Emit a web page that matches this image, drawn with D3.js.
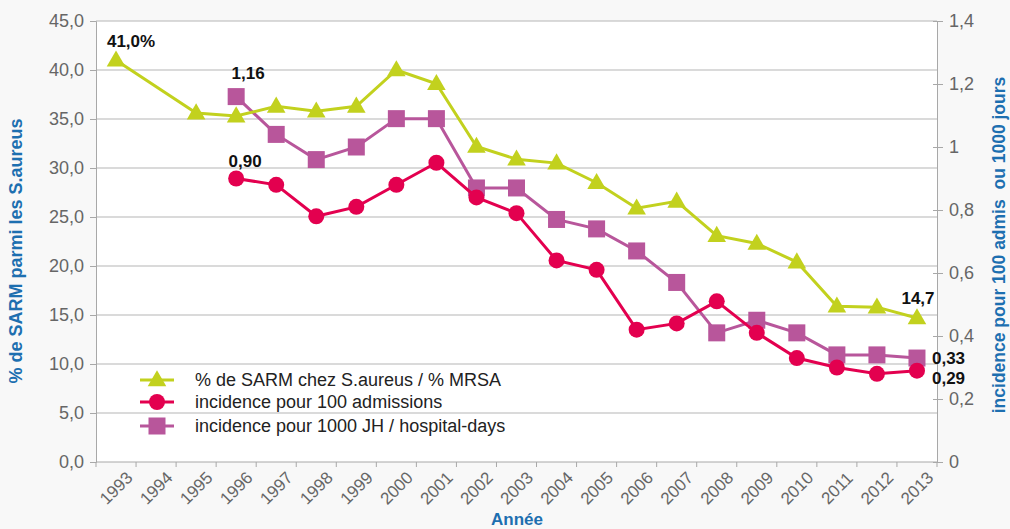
<!DOCTYPE html>
<html>
<head>
<meta charset="utf-8">
<title>SARM</title>
<script src="https://d3js.org/d3.v7.min.js"></script>
<style>
  body { margin: 0; background: #f8f8f8; }
  #plot { width: 1010px; height: 529px; }
  text { font-family: "Liberation Sans", Arial, sans-serif; }
</style>
</head>
<body>
<div id="plot"></div>
<script>
var years = ['1993','1994','1995','1996','1997','1998','1999','2000','2001','2002','2003',
             '2004','2005','2006','2007','2008','2009','2010','2011','2012','2013']
// % de SARM (axe gauche)
var pctSARM = [41.0, null, 35.6, 35.3, 36.3, 35.8, 36.3, 40.0, 38.6, 32.2, 30.9,
               30.5, 28.5, 25.9, 26.6, 23.1, 22.3, 20.4, 15.9, 15.8, 14.7]
// incidence pour 100 admissions (axe droit)
var incAdm = [null, null, null, 0.90, 0.88, 0.78, 0.81, 0.88, 0.95, 0.84, 0.79,
              0.64, 0.61, 0.42, 0.44, 0.51, 0.41, 0.33, 0.30, 0.28, 0.29]
// incidence pour 1000 JH (axe droit)
var incJH = [null, null, null, 1.16, 1.04, 0.96, 1.00, 1.09, 1.09, 0.87, 0.87,
             0.77, 0.74, 0.67, 0.57, 0.41, 0.45, 0.41, 0.34, 0.34, 0.33]
var leftTicks = [0, 5, 10, 15, 20, 25, 30, 35, 40, 45]
var rightTicks = [0, 0.2, 0.4, 0.6, 0.8, 1, 1.2, 1.4]
var legendLabels = ['% de SARM chez S.aureus / % MRSA', 'incidence pour 100 admissions',
                    'incidence pour 1000 JH / hospital-days']

var W = 1010, H = 529
var x0 = 96, x1 = 937, y0 = 462, y1 = 21
var green = '#c2d11e', red = '#e3004f', mag = '#b8569b', blue = '#1d6fb0'

var svg = d3.select('#plot').append('svg').attr('width', W).attr('height', H)
svg.append('rect').attr('width', W).attr('height', H).attr('fill', '#f8f8f8')
svg.append('rect').attr('x', x0).attr('y', y1).attr('width', x1 - x0).attr('height', y0 - y1).attr('fill', '#fff')

var x = d3.scaleBand().domain(years).range([x0, x1])
var yL = d3.scaleLinear().domain([0, 45]).range([y0, y1])
var yR = d3.scaleLinear().domain([0, 1.4]).range([y0, y1])
var cx = function(i){ return x(years[i]) + x.bandwidth()/2 }

// grid
svg.append('g').selectAll('line').data(leftTicks.slice(1)).enter().append('line')
  .attr('x1', x0).attr('x2', x1)
  .attr('y1', function(d){ return yL(d) }).attr('y2', function(d){ return yL(d) })
  .attr('stroke', '#b5b5b5').attr('stroke-width', 1.2)

var fmt1 = function(d){ return d3.format('.1f')(d).replace('.', ',') }
var fmtR = function(d){ return String(d).replace('.', ',') }

// left axis
var gl = svg.append('g').attr('transform', 'translate(' + x0 + ',0)')
  .call(d3.axisLeft(yL).tickValues(leftTicks).tickFormat(fmt1).tickSize(6).tickPadding(6))
gl.select('.domain').attr('stroke', '#a8a8a8')
gl.selectAll('.tick line').attr('stroke', '#a8a8a8')
gl.selectAll('text').attr('font-size', 18).attr('fill', '#666')
  .style('font-family', '"Liberation Sans", Arial, sans-serif')

// right axis
var gr = svg.append('g').attr('transform', 'translate(' + x1 + ',0)')
  .call(d3.axisRight(yR).tickValues(rightTicks).tickFormat(fmtR).tickSize(6).tickPadding(6))
gr.select('.domain').attr('stroke', '#a8a8a8')
gr.selectAll('.tick line').attr('stroke', '#a8a8a8').attr('x1', -4)
gr.selectAll('text').attr('font-size', 18).attr('fill', '#666')
  .style('font-family', '"Liberation Sans", Arial, sans-serif')

// bottom axis
svg.append('line').attr('x1', x0).attr('x2', x1).attr('y1', y0).attr('y2', y0).attr('stroke', '#a8a8a8')
svg.append('g').selectAll('line').data(years.concat(['end'])).enter().append('line')
  .attr('x1', function(d, i){ return x0 + i * x.bandwidth() })
  .attr('x2', function(d, i){ return x0 + i * x.bandwidth() })
  .attr('y1', y0).attr('y2', y0 + 5).attr('stroke', '#a8a8a8')
svg.append('g').selectAll('text').data(years).enter().append('text')
  .attr('transform', function(d){ return 'translate(' + (x(d) + x.bandwidth()/2) + ',488) rotate(-45)' })
  .attr('text-anchor', 'middle').attr('dy', '0.35em')
  .attr('font-size', 17).attr('fill', '#666')
  .text(function(d){ return d })

// axis titles
svg.append('text').attr('transform', 'translate(22,251) rotate(-90)')
  .attr('text-anchor', 'middle').attr('font-size', 18).attr('font-weight', 'bold').attr('fill', blue)
  .text('% de SARM parmi les S.aureus')
svg.append('text').attr('transform', 'translate(1005,245) rotate(-90)')
  .attr('text-anchor', 'middle').attr('font-size', 17.5).attr('font-weight', 'bold').attr('fill', blue)
  .style('white-space', 'pre')
  .text('incidence pour 100 admis  ou 1000 jours')
svg.append('text').attr('x', 517).attr('y', 525)
  .attr('text-anchor', 'middle').attr('font-size', 17).attr('font-weight', 'bold').attr('fill', blue)
  .text('Année')

function pts(vals, scale){
  var out = []
  vals.forEach(function(v, i){ if (v != null) out.push([cx(i), scale(v)]) })
  return out
}
var line = d3.line()

var pJH = pts(incJH, yR), pAdm = pts(incAdm, yR), pPct = pts(pctSARM, yL)

svg.append('path').attr('d', line(pJH)).attr('fill', 'none').attr('stroke', mag).attr('stroke-width', 3)
svg.append('g').selectAll('rect').data(pJH).enter().append('rect')
  .attr('x', function(d){ return d[0] - 8.5 }).attr('y', function(d){ return d[1] - 8.5 })
  .attr('width', 17).attr('height', 17).attr('fill', mag)

svg.append('path').attr('d', line(pAdm)).attr('fill', 'none').attr('stroke', red).attr('stroke-width', 3)
svg.append('g').selectAll('circle').data(pAdm).enter().append('circle')
  .attr('cx', function(d){ return d[0] }).attr('cy', function(d){ return d[1] })
  .attr('r', 8).attr('fill', red)

var tri = d3.symbol().type(d3.symbolTriangle).size(150)
svg.append('path').attr('d', line(pPct)).attr('fill', 'none').attr('stroke', green).attr('stroke-width', 3)
svg.append('g').selectAll('path').data(pPct).enter().append('path')
  .attr('d', tri).attr('transform', function(d){ return 'translate(' + d[0] + ',' + (d[1] + 1) + ')' })
  .attr('fill', green)

// data labels
var labs = [
  { t: '41,0%', px: cx(0), py: yL(pctSARM[0]), dx: 15, dy: -13, a: 'middle' },
  { t: '1,16', px: cx(3), py: yR(incJH[3]), dx: 12, dy: -18, a: 'middle' },
  { t: '0,90', px: cx(3), py: yR(incAdm[3]), dx: 9, dy: -12, a: 'middle' },
  { t: '14,7', px: cx(20), py: yL(pctSARM[20]), dx: 1, dy: -14, a: 'middle' },
  { t: '0,33', px: cx(20), py: yR(incJH[20]), dx: 15, dy: 6, a: 'start' },
  { t: '0,29', px: cx(20), py: yR(incAdm[20]), dx: 15, dy: 13, a: 'start' }
]
svg.append('g').selectAll('text').data(labs).enter().append('text')
  .attr('x', function(d){ return d.px + d.dx }).attr('y', function(d){ return d.py + d.dy })
  .attr('text-anchor', function(d){ return d.a })
  .attr('font-size', 17).attr('font-weight', 'bold').attr('fill', '#111')
  .text(function(d){ return d.t })

// legend
var legColors = [green, red, mag]
var legY = [380, 402, 426]
var lg = svg.append('g')
legendLabels.forEach(function(l, i){
  lg.append('line').attr('x1', 140).attr('x2', 174).attr('y1', legY[i]).attr('y2', legY[i])
    .attr('stroke', legColors[i]).attr('stroke-width', 3)
  if (i == 0) lg.append('path').attr('d', tri).attr('transform', 'translate(157,' + (legY[i] + 1) + ')').attr('fill', green)
  if (i == 1) lg.append('circle').attr('cx', 157).attr('cy', legY[i]).attr('r', 8).attr('fill', red)
  if (i == 2) lg.append('rect').attr('x', 148.5).attr('y', legY[i] - 8.5).attr('width', 17).attr('height', 17).attr('fill', mag)
  lg.append('text').attr('x', 195).attr('y', legY[i]).attr('dy', '0.35em')
    .attr('font-size', 18).attr('fill', '#222').text(l)
})
</script>
</body>
</html>
